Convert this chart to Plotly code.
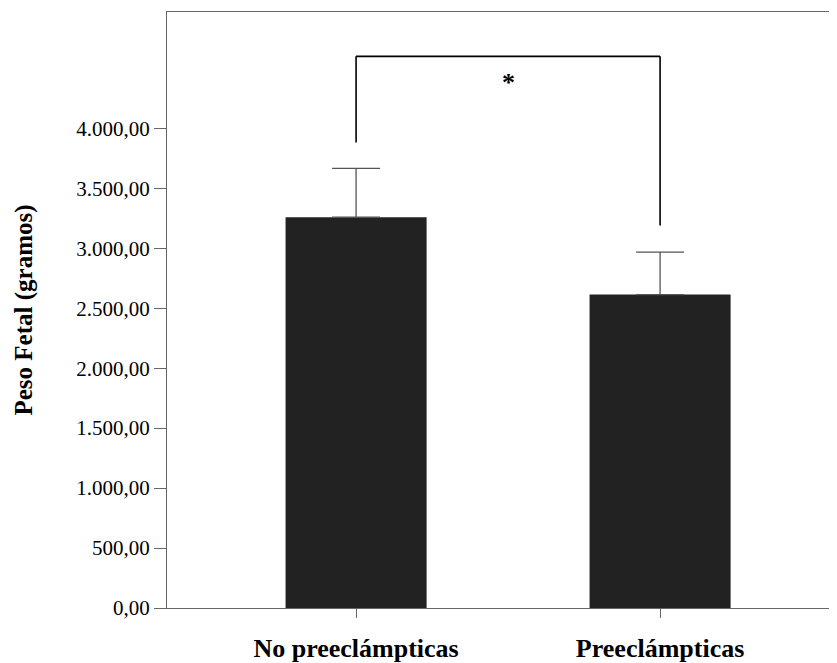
import plotly.graph_objects as go

categories = ["No preeclámpticas", "Preeclámpticas"]
means = [3259, 2614]
sd_upper = [407, 354]
tick_values = [0, 500, 1000, 1500, 2000, 2500, 3000, 3500, 4000]
bracket_top = 4600
bracket_left_bottom = 3881
bracket_right_bottom = 3189
star_y = 4382

fig = go.Figure()
fig.add_trace(go.Bar(
    x=[0, 1], y=means, width=0.464,
    marker=dict(color="#222222", line=dict(color="#222222", width=0)),
    error_y=dict(type="data", array=sd_upper, arrayminus=[0, 0], symmetric=False,
                 color="#555555", thickness=1.3, width=24),
))

line_style = dict(color="black", width=1.6)
fig.add_shape(type="line", x0=0, x1=1, y0=bracket_top, y1=bracket_top, line=line_style)
fig.add_shape(type="line", x0=0, x1=0, y0=bracket_top, y1=bracket_left_bottom, line=line_style)
fig.add_shape(type="line", x0=1, x1=1, y0=bracket_top, y1=bracket_right_bottom, line=line_style)
fig.add_annotation(x=0.5, y=star_y, text="<b>*</b>", showarrow=False,
                   font=dict(family="Liberation Serif", size=26, color="black"))

fig.update_layout(
    width=829, height=655,
    margin=dict(l=159, r=0, t=4, b=52),
    paper_bgcolor="white", plot_bgcolor="white",
    separators=",.",
    showlegend=False,
    font=dict(family="Liberation Serif", color="black"),
)
fig.update_xaxes(
    range=[-0.622, 1.582], tickvals=[0, 1], ticktext=categories,
    showline=True, linecolor="#666666", linewidth=1.3, mirror=True,
    ticks="outside", ticklen=9, tickcolor="#666666", tickwidth=1,
    tickfont=dict(family="Liberation Serif", size=26, color="black", weight="bold"),
    showgrid=False, zeroline=False, ticklabelstandoff=8,
)
fig.update_yaxes(
    range=[0, 4970], tickvals=tick_values, tickformat=",.2f",
    showline=True, linecolor="#666666", linewidth=1.3,
    ticks="outside", ticklen=12, tickcolor="#666666", tickwidth=1,
    tickfont=dict(family="Liberation Serif", size=21, color="black"),
    title=dict(text="<b>Peso Fetal (gramos)</b>", font=dict(family="Liberation Serif", size=25, color="black"), standoff=36),
    showgrid=False, zeroline=False,
)
fig.write_html("out.html")
